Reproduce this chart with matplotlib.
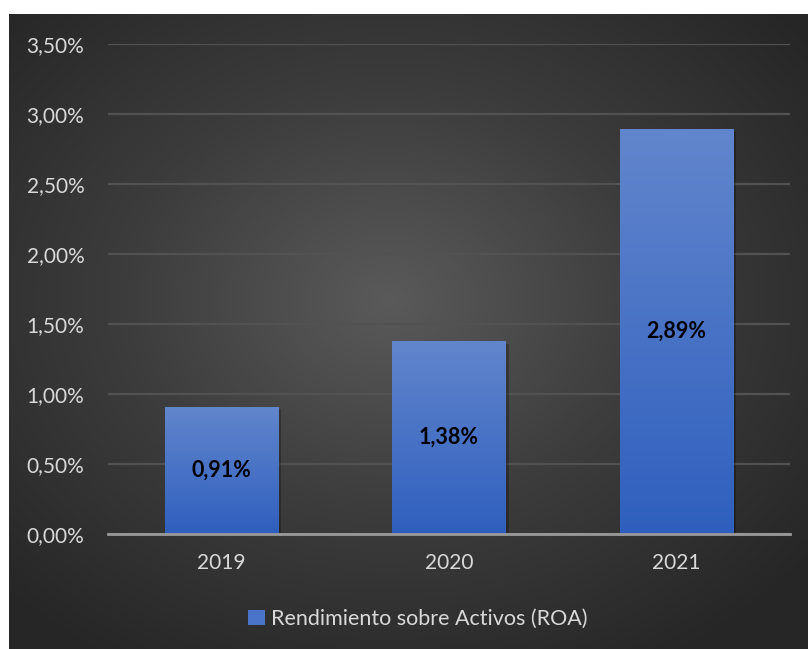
import numpy as np
import matplotlib
matplotlib.use("Agg")
import matplotlib.pyplot as plt
import matplotlib.patheffects as pe
from matplotlib.colors import LinearSegmentedColormap
from matplotlib.ticker import FuncFormatter
from matplotlib.patches import Patch

years = ["2019", "2020", "2021"]
roa = [0.91, 1.38, 2.89]
labels = ["0,91%", "1,38%", "2,89%"]
yticks = [0, 0.5, 1.0, 1.5, 2.0, 2.5, 3.0, 3.5]
series_name = "Rendimiento sobre Activos (ROA)"

plt.rcParams["font.family"] = ["Lato", "DejaVu Sans"]
W, H = 808, 649
fig = plt.figure(figsize=(W / 100, H / 100), dpi=100, facecolor="white")

# radial gradient background panel
bg = fig.add_axes([9 / W, 0, 1 - 9 / W, (H - 14) / H], zorder=0)
yy, xx = np.mgrid[-1:1:300j, -1:1:400j]
r = np.sqrt((xx + 0.05) ** 2 + (yy + 0.1) ** 2)
bg_cmap = LinearSegmentedColormap.from_list("bg", ["#5a5a5a", "#3c3c3c", "#262626"])
bg.imshow(np.clip(r / 1.35, 0, 1), cmap=bg_cmap, aspect="auto", vmin=0, vmax=1)
bg.set_axis_off()

ax = fig.add_axes([108 / W, (H - 534) / H, (790 - 108) / W, (534 - 44) / H], zorder=1)
ax.patch.set_alpha(0)
x = np.arange(len(years))
bars = ax.bar(x, roa, width=0.5, color="#4a74c9", zorder=3,
              path_effects=[pe.SimplePatchShadow(offset=(2, -2), shadow_rgbFace="black", alpha=0.25),
                            pe.Normal()])

bar_cmap = LinearSegmentedColormap.from_list("bar", ["#2f5fbe", "#6286cd"])
grad = np.linspace(0, 1, 256).reshape(-1, 1)
for b in bars:
    x0, y0, w, h = b.get_x(), b.get_y(), b.get_width(), b.get_height()
    im = ax.imshow(grad, cmap=bar_cmap, origin="lower", aspect="auto",
                   extent=(x0, x0 + w, y0, y0 + h), zorder=4)
    im.set_clip_path(b)

for b, lab in zip(bars, labels):
    ax.text(b.get_x() + b.get_width() / 2, b.get_height() / 2, lab, ha="center", va="center",
            fontsize=15.5, fontweight="bold", color="black", zorder=6)

ax.set_xlim(-0.5, len(years) - 0.5)
ax.set_ylim(0, 3.5)
ax.set_yticks(yticks)
ax.yaxis.set_major_formatter(FuncFormatter(lambda v, p: f"{v:.2f}%".replace(".", ",")))
ax.set_xticks(x)
ax.set_xticklabels(years)
ax.tick_params(axis="both", length=0, colors="#d9d9d9", labelsize=15)
ax.tick_params(axis="y", pad=17)
ax.tick_params(axis="x", pad=14)
ax.grid(axis="y", color="#525252", lw=1.6, zorder=1)
ax.set_axisbelow(True)
for s in ["top", "right", "left"]:
    ax.spines[s].set_visible(False)
ax.spines["bottom"].set_color("#9a9a9a")
ax.spines["bottom"].set_linewidth(2)
ax.spines["bottom"].set_zorder(5)

leg = fig.legend(handles=[Patch(facecolor="#4a74c9", label=series_name)],
                 loc="center", bbox_to_anchor=(418 / W, 1 - 619 / H), frameon=False,
                 fontsize=15.5, labelcolor="#d9d9d9", handlelength=0.75, handleheight=0.75,
                 handletextpad=0.3)

fig.savefig("out.png", dpi=100, facecolor="white")
